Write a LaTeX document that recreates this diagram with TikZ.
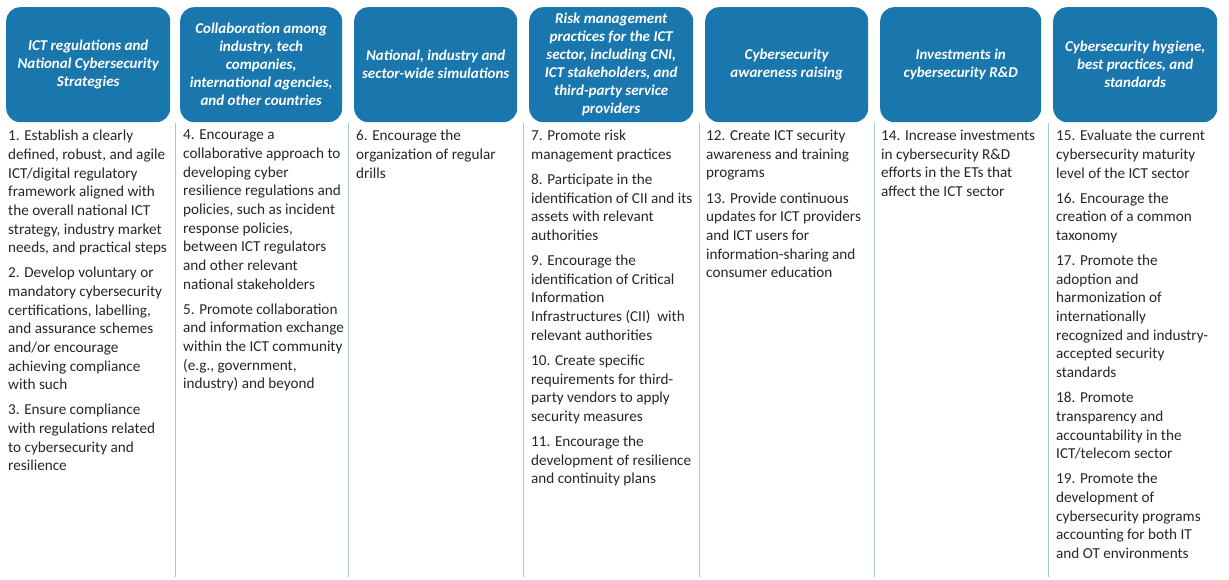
\documentclass[tikz,border=0pt]{standalone}
\usepackage{fontspec}
\setmainfont{Carlito}
\definecolor{hdr}{HTML}{1A77AD}
\definecolor{sep}{HTML}{A9C4D6}
\definecolor{txt}{HTML}{262626}
\begin{document}
\begin{tikzpicture}[x=1pt,y=-1pt,
  hbox/.style={fill=hdr,rounded corners=14pt,text=white,font=\fontsize{15}{18}\selectfont\bfseries\itshape,align=center,inner sep=1pt},
  body/.style={anchor=north west,inner sep=0pt,text=txt,align=left,font=\fontsize{15.2}{18.65}\selectfont},
  sepline/.style={draw=sep,line width=1pt}]
\useasboundingbox (0,0) rectangle (1229,579);
\def\hd#1#2#3#4{\node[hbox,minimum width=#3pt-#2pt,minimum height=115pt,anchor=north west] (#1) at (#2,7) {#4};}
\hd{h1}{6}{170}{ICT regulations and\\National Cybersecurity\\Strategies}
\hd{h2}{180}{342}{Collaboration among\\industry, tech\\companies,\\international agencies,\\and other countries}
\hd{h3}{354}{517}{National, industry and\\sector-wide simulations}
\hd{h4}{529}{693}{Risk management\\practices for the ICT\\sector, including CNI,\\ICT stakeholders, and\\third-party service\\providers}
\hd{h5}{705}{868}{Cybersecurity\\awareness raising}
\hd{h6}{880}{1041}{Investments in\\cybersecurity R\&D}
\hd{h7}{1053}{1217}{Cybersecurity hygiene,\\best practices, and\\standards}
\foreach \x in {175,348,523,699,874,1048} \draw[sepline] (\x,123) -- (\x,577);
\def\gap{\\[6.5pt]}
\node[body] (t1) at (8,130) {1. Establish a clearly\\defined, robust, and agile\\ICT/digital regulatory\\framework aligned with\\the overall national ICT\\strategy, industry market\\needs, and practical steps\gap 2. Develop voluntary or\\mandatory cybersecurity\\certifications, labelling,\\and assurance schemes\\and/or encourage\\achieving compliance\\with such\gap 3. Ensure compliance\\with regulations related\\to cybersecurity and\\resilience};
\node[body] (t2) at (183,130) {4. Encourage a\\collaborative approach to\\developing cyber\\resilience regulations and\\policies, such as incident\\response policies,\\between ICT regulators\\and other relevant\\national stakeholders\gap 5. Promote collaboration\\and information exchange\\within the ICT community\\(e.g., government,\\industry) and beyond};
\node[body] (t3) at (356,130) {6. Encourage the\\organization of regular\\drills};
\node[body] (t4) at (531,130) {7. Promote risk\\management practices\gap 8. Participate in the\\identification of CII and its\\assets with relevant\\authorities\gap 9. Encourage the\\identification of Critical\\Information\\Infrastructures (CII)~ with\\relevant authorities\gap 10. Create specific\\requirements for third-\\party vendors to apply\\security measures\gap 11. Encourage the\\development of resilience\\and continuity plans};
\node[body] (t5) at (706,130) {12. Create ICT security\\awareness and training\\programs\gap 13. Provide continuous\\updates for ICT providers\\and ICT users for\\information-sharing and\\consumer education};
\node[body] (t6) at (881,130) {14. Increase investments\\in cybersecurity R\&D\\efforts in the ETs that\\affect the ICT sector};
\node[body] (t7) at (1056,130) {15. Evaluate the current\\cybersecurity maturity\\level of the ICT sector\gap 16. Encourage the\\creation of a common\\taxonomy\gap 17. Promote the\\adoption and\\harmonization of\\internationally\\recognized and industry-\\accepted security\\standards\gap 18. Promote\\transparency and\\accountability in the\\ICT/telecom sector\gap 19. Promote the\\development of\\cybersecurity programs\\accounting for both IT\\and OT environments};
\end{tikzpicture}
\end{document}
